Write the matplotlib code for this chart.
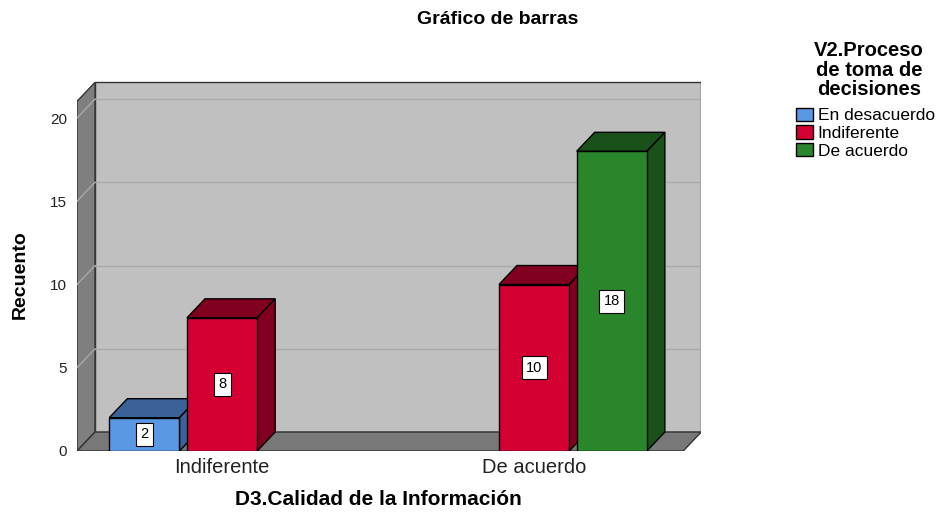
import matplotlib
matplotlib.use("Agg")
import matplotlib.pyplot as plt
from matplotlib.patches import Polygon, Patch

# Datos
categorias = ["Indiferente", "De acuerdo"]
series = ["En desacuerdo", "Indiferente", "De acuerdo"]
recuento = {
    "En desacuerdo": [2, 0],
    "Indiferente": [8, 10],
    "De acuerdo": [0, 18],
}
yticks = [0, 5, 10, 15, 20]

# Colores (frente, lados)
frente = {"En desacuerdo": "#5b98e4", "Indiferente": "#d50032", "De acuerdo": "#2a862a"}
lado = {"En desacuerdo": "#3a6299", "Indiferente": "#82001f", "De acuerdo": "#1a511a"}

plt.rcParams['font.family'] = ['Liberation Sans', 'DejaVu Sans']

fig = plt.figure(figsize=(9.41, 5.12), dpi=100)

# limites del plano frontal y profundidad 3D
x0, x1 = -0.465, 1.478
dx, dy = 0.0577, 1.14
H = 21.0
ax = fig.add_axes([77 / 941, 61 / 512, (x1 + dx - x0) * 312 / 941, 22.3 * 16.65 / 512])
ax.set_xlim(x0, x1 + dx)
ax.set_ylim(0, 22.3)
ax.patch.set_visible(False)
for s in ax.spines.values():
    s.set_visible(False)

# paredes
pared_fondo = Polygon([(x0 + dx, dy), (x1 + dx, dy), (x1 + dx, H + dy), (x0 + dx, H + dy)],
                      closed=True, facecolor="#c0c0c0", edgecolor="#333333", lw=1, zorder=1)
pared_izq = Polygon([(x0, 0), (x0 + dx, dy), (x0 + dx, H + dy), (x0, H)],
                    closed=True, facecolor="#7f7f7f", edgecolor="#333333", lw=1, zorder=1)
suelo = Polygon([(x0, 0), (x1, 0), (x1 + dx, dy), (x0 + dx, dy)],
                closed=True, facecolor="#787878", edgecolor="#333333", lw=1, zorder=1)
for p in (pared_fondo, pared_izq, suelo):
    ax.add_patch(p)

for t in yticks[1:]:
    ax.plot([x0 + dx, x1 + dx], [t + dy, t + dy], color="#a9a9a9", lw=1, zorder=1.5)
    ax.plot([x0, x0 + dx], [t, t + dy], color="#a8a8a8", lw=1, zorder=1.5)

# barras
ancho = 0.225
paso = 0.249
z = 3
for j in range(len(categorias)):
    for i, s in enumerate(series):
        v = recuento[s][j]
        if v == 0:
            continue
        xc = j + (i - 1) * paso
        b = ax.bar(xc, v, ancho, color=frente[s], edgecolor="black", lw=1, zorder=z + 0.2)[0]
        bx, bw = b.get_x(), b.get_width()
        tapa = Polygon([(bx, v), (bx + bw, v), (bx + bw + dx, v + dy), (bx + dx, v + dy)],
                       closed=True, facecolor=lado[s], edgecolor="black", lw=1, zorder=z + 0.1)
        costado = Polygon([(bx + bw, 0), (bx + bw + dx, dy), (bx + bw + dx, v + dy), (bx + bw, v)],
                          closed=True, facecolor=lado[s], edgecolor="black", lw=1, zorder=z + 0.1)
        ax.add_patch(tapa)
        ax.add_patch(costado)
        ax.text(xc, v / 2, str(v), ha="center", va="center", fontsize=10.5, zorder=z + 0.5,
                bbox=dict(boxstyle="square,pad=0.3", facecolor="white", edgecolor="black", lw=0.8))
        z += 1

ax.set_yticks(yticks)
ax.set_yticklabels([str(t) for t in yticks], fontsize=11, color="#222222")
ax.set_xticks(range(len(categorias)))
ax.set_xticklabels(categorias, fontsize=14.5, color="#222222")
ax.tick_params(axis="both", length=0)
ax.tick_params(axis="y", pad=7)
ax.tick_params(axis="x", pad=5)

fig.text(0.529, 0.961, "Gráfico de barras", ha="center", va="center", fontsize=14, fontweight="bold")
fig.text(0.402, 0.006, "D3.Calidad de la Información", ha="center", va="bottom", fontsize=15, fontweight="bold")
fig.text(0.022, 0.463, "Recuento", ha="center", va="center", rotation=90, fontsize=14, fontweight="bold",
         family=['Liberation Sans Narrow', 'Liberation Sans'])

# leyenda
fig.text(0.9235, 0.863, "V2.Proceso\nde toma de\ndecisiones", ha="center", va="center",
         fontsize=14.5, fontweight="bold", linespacing=1.05)
handles = [Patch(facecolor=frente[s], edgecolor="black", lw=1) for s in series]
fig.legend(handles, series, loc="upper left", bbox_to_anchor=(0.846, 0.79), frameon=False,
           fontsize=12.5, handlelength=0.95, handleheight=0.8, handletextpad=0.3,
           labelspacing=0.12, borderpad=0, borderaxespad=0)

fig.savefig("out.png", dpi=100)
